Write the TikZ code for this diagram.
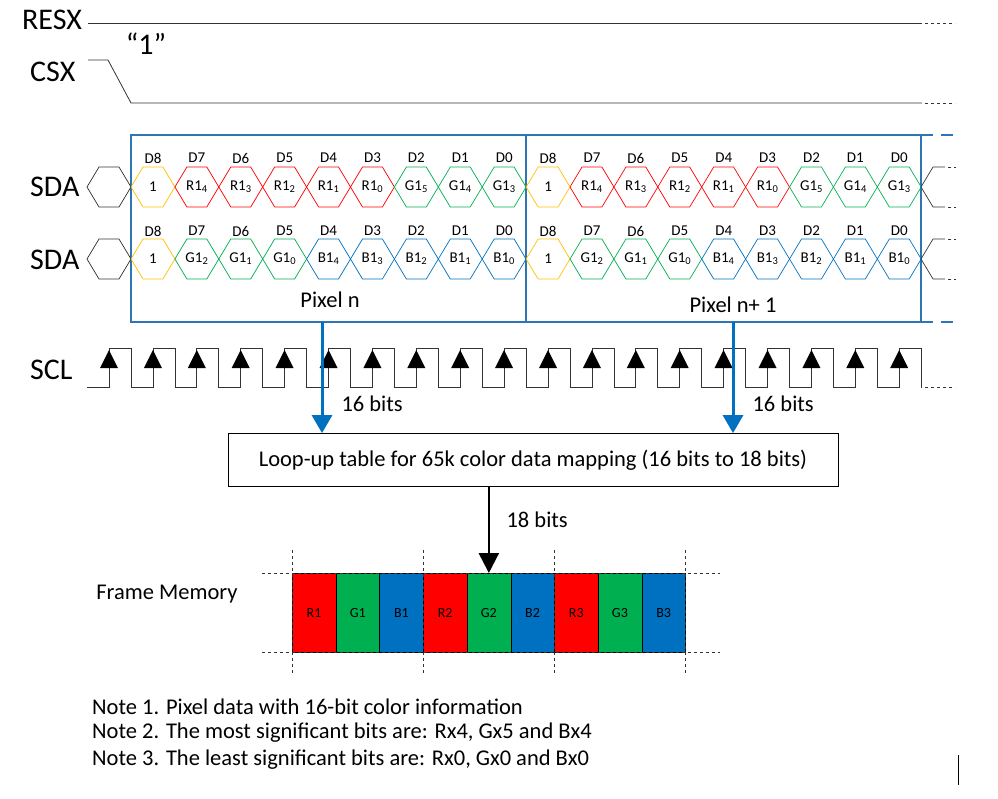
\documentclass[tikz,border=0pt]{standalone}
\usepackage{fontspec}
\setmainfont{Carlito}
\usetikzlibrary{arrows.meta, positioning, calc}
\definecolor{cyel}{RGB}{255,192,0}
\definecolor{cred}{RGB}{255,0,0}
\definecolor{cgrn}{RGB}{0,176,80}
\definecolor{cblu}{RGB}{0,112,192}
\definecolor{boxblue}{RGB}{46,117,182}
\tikzstyle{signal} = [font=\fontsize{30}{32}\selectfont, anchor=west, inner sep=0pt]
\tikzstyle{bitlbl} = [font=\fontsize{15}{17}\selectfont, inner sep=0pt]
\tikzstyle{hexlbl} = [font=\fontsize{15}{17}\selectfont, inner sep=0pt]
\tikzstyle{txt} = [font=\fontsize{22.5}{24}\selectfont]
\tikzstyle{wave} = [line width=0.8pt, black!80]
\tikzstyle{bus} = [line width=3pt, cblu, -{Triangle[length=18pt,width=20pt]}]
\tikzstyle{memcell} = [draw=black, minimum width=43.7pt, minimum height=79pt, inner sep=0pt, font=\fontsize{14}{16}\selectfont, anchor=north west]
\newcommand{\hexcell}[4]{% x0, yc, colour, label
  \draw[#3, line width=0.7pt] (#1,#2) -- ++(12,-20) -- ++(19.9,0) -- ++(12,20) -- ++(-12,20) -- ++(-19.9,0) -- cycle;
  \node[hexlbl] at ($(#1,#2)+(22,0)$) {#4};}
\begin{document}
\begin{tikzpicture}[x=1pt, y=-1pt]
    \useasboundingbox (0,0) rectangle (998,798);
    % RESX and CSX
    \node[signal] (resx) at (22,20) {RESX};
    \draw[wave] (88,23) -- (922,23);
    \draw[wave, dashed] (925,23) -- (955,23);
    \node[font=\fontsize{30}{32}\selectfont] (one) at (146,44) {``1''};
    \node[signal] (csx) at (30,72) {CSX};
    \draw[wave] (88,60) -- (108,60) -- (131,103) -- (922,103);
    \draw[wave, dashed] (925,103) -- (955,103);
    % bus frame
    \draw[boxblue, line width=1.2pt] (131,135) rectangle (921,322);
    \draw[boxblue, line width=1.2pt] (526,135) -- (526,322);
    \draw[boxblue, line width=1.2pt, dashed, dash pattern=on 12pt off 8pt] (921,135) -- (955,135) (921,322) -- (955,322);
    % SDA rows
    \node[signal] (sda1) at (30,187) {SDA};
    \node[signal] (sda2) at (30,260) {SDA};
    \foreach \yc in {187,259} {
        \draw[black!80, line width=0.7pt] (131,\yc) -- (119,\yc-20) -- (99,\yc-20) -- (87,\yc) -- (99,\yc+20) -- (119,\yc+20) -- cycle;
        \draw[black!80, line width=0.7pt] (945,\yc-20) -- (933,\yc-20) -- (921,\yc) -- (933,\yc+20) -- (945,\yc+20);
        \draw[black!80, line width=0.7pt, dashed] (948,\yc-20) -- (956,\yc-20) (948,\yc+20) -- (956,\yc+20);
    }
    \foreach \p in {0,1} {
        \foreach \lbl/\col [count=\i from 0] in {1/cyel, R1\textsubscript{4}/cred, R1\textsubscript{3}/cred, R1\textsubscript{2}/cred, R1\textsubscript{1}/cred, R1\textsubscript{0}/cred, G1\textsubscript{5}/cgrn, G1\textsubscript{4}/cgrn, G1\textsubscript{3}/cgrn} {
            \pgfmathsetmacro{\xs}{131+43.9*(\i+9*\p)}
            \hexcell{\xs}{187}{\col}{\lbl}
        }
        \foreach \lbl/\col [count=\i from 0] in {1/cyel, G1\textsubscript{2}/cgrn, G1\textsubscript{1}/cgrn, G1\textsubscript{0}/cgrn, B1\textsubscript{4}/cblu, B1\textsubscript{3}/cblu, B1\textsubscript{2}/cblu, B1\textsubscript{1}/cblu, B1\textsubscript{0}/cblu} {
            \pgfmathsetmacro{\xs}{131+43.9*(\i+9*\p)}
            \hexcell{\xs}{259}{\col}{\lbl}
        }
        \foreach \d [count=\i from 0] in {8,7,...,0} {
            \pgfmathsetmacro{\xs}{153+43.9*(\i+9*\p)}
            \node[bitlbl] at (\xs,158) {D\d};
            \node[bitlbl] at (\xs,231) {D\d};
        }
    }
    \node[txt] (pixn) at (330,300) {Pixel n};
    \node[txt] (pixn1) at (733,305) {Pixel n+ 1};
    % SCL
    \node[signal] (scl) at (30,370) {SCL};
    \draw[wave] (87,387) \foreach \k in {0,...,18} { -- ({109+43.9*\k},387) -- ({109+43.9*\k},348) -- ({131+43.9*\k},348) -- ({131+43.9*\k},387) } -- (922,387);
    \draw[wave, dashed] (925,387) -- (955,387);
    \foreach \k in {0,...,18} {
        \fill ({109+43.9*\k},350) -- ++(-9,18) -- ++(18,0) -- cycle;
    }
    % look-up table
    \node[draw, line width=0.8pt, minimum width=610pt, minimum height=53pt, txt] (lut) at (533,460) {Loop-up table for 65k color data mapping (16 bits to 18 bits)};
    \coordinate (tapn) at (322,322);
    \coordinate (tapn1) at (733,322);
    \draw[bus] (tapn) -- (tapn |- lut.north);
    \draw[bus] (tapn1) -- (tapn1 |- lut.north);
    \node[txt, anchor=west] (bits1) at (338,404) {16 bits};
    \node[txt, anchor=west] (bits2) at (749,404) {16 bits};
    % frame memory
    \node[txt] (fmem) at (167,594) {Frame Memory};
    \foreach \lbl/\col [count=\i from 0] in {R1/cred, G1/cgrn, B1/cblu, R2/cred, G2/cgrn, B2/cblu, R3/cred, G3/cgrn, B3/cblu} {
        \node[memcell, fill=\col] (m\i) at ({292+43.7*\i},573) {\lbl};
    }
    \draw[line width=2.4pt, -{Triangle[length=20pt,width=20pt]}] (lut.south -| m4) -- (m4.north);
    \node[txt, anchor=west] (bits3) at (503,520) {18 bits};
    \draw[dashed, black!80] (262,573) -- (720,573) (262,652) -- (720,652);
    \foreach \xv in {292,423,554,685} {
        \draw[dashed, black!80] (\xv,550) -- (\xv,675);
    }
    % notes
    \node[txt, anchor=west, inner sep=0pt] (note1) at (92,707) {Note 1. Pixel data with 16-bit color information};
    \node[txt, anchor=west, inner sep=0pt] (note2) at (92,733) {Note 2. The most significant bits are: Rx4, Gx5 and Bx4};
    \node[txt, anchor=west, inner sep=0pt] (note3) at (92,760) {Note 3. The least significant bits are: Rx0, Gx0 and Bx0};
    \draw[line width=1pt] (958,755) -- (958,785);
\end{tikzpicture}
\end{document}
